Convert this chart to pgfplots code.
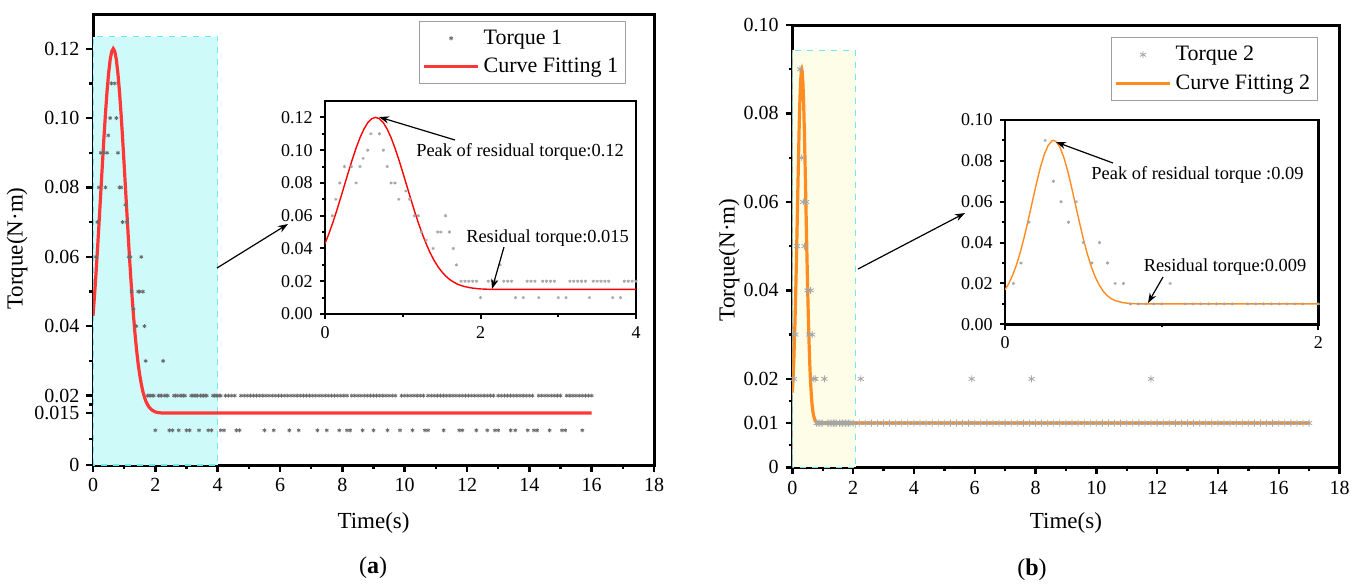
\documentclass[border=0pt]{standalone}
\usepackage{fontspec}
\setmainfont{Liberation Serif}
\usepackage{pgfplots}
\usepackage{pgfplotstable}
\pgfplotsset{compat=1.18}
\usetikzlibrary{arrows.meta}

\definecolor{fitred}{RGB}{255,55,55}
\definecolor{fitorange}{RGB}{255,140,30}
\definecolor{cyanfill}{RGB}{206,250,250}
\definecolor{cyanedge}{RGB}{110,232,238}
\definecolor{yelfill}{RGB}{254,253,232}
\definecolor{markgray}{RGB}{105,105,105}
\definecolor{lightmark}{RGB}{165,165,165}

\newcommand{\tickfont}{\fontsize{10}{12}\selectfont}
\newcommand{\insetfont}{\fontsize{9}{11}\selectfont}
\newcommand{\labfont}{\fontsize{11.5}{13}\selectfont}
\newcommand{\legfont}{\fontsize{11}{13}\selectfont}
\newcommand{\annfont}{\fontsize{9.2}{11}\selectfont}

% measured torque, panel (a)
\pgfplotstableread[row sep=\\]{
x y\\
0.094 0.060\\ 0.14 0.070\\ 0.19 0.080\\ 0.25 0.090\\ 0.34 0.090\\ 0.40 0.080\\
0.45 0.090\\ 0.49 0.095\\ 0.55 0.100\\ 0.59 0.110\\ 0.70 0.110\\ 0.75 0.100\\
0.80 0.090\\ 0.85 0.080\\ 0.90 0.080\\ 0.95 0.070\\ 1.04 0.075\\ 1.09 0.070\\
1.15 0.060\\ 1.20 0.060\\ 1.24 0.050\\ 1.30 0.045\\ 1.39 0.040\\ 1.45 0.050\\
1.49 0.050\\ 1.55 0.060\\ 1.60 0.050\\ 1.65 0.040\\ 1.69 0.030\\ 2.25 0.030\\
1.75 0.02\\ 1.80 0.02\\ 1.85 0.02\\ 1.90 0.02\\ 1.95 0.02\\ 2.10 0.02\\ 2.15 0.02\\
2.20 0.02\\ 2.30 0.02\\ 2.35 0.02\\ 2.40 0.02\\ 2.60 0.02\\ 2.65 0.02\\ 2.70 0.02\\
2.80 0.02\\ 2.85 0.02\\ 2.90 0.02\\ 2.95 0.02\\ 3.15 0.02\\ 3.20 0.02\\ 3.25 0.02\\
3.30 0.02\\ 3.35 0.02\\ 3.45 0.02\\ 3.50 0.02\\ 3.55 0.02\\ 3.60 0.02\\ 3.65 0.02\\
3.85 0.02\\ 3.90 0.02\\ 3.95 0.02\\ 4.00 0.02\\ 4.05 0.02\\ 4.10 0.02\\ 4.25 0.02\\
4.35 0.02\\ 4.45 0.02\\ 4.55 0.02\\ 4.75 0.02\\ 4.85 0.02\\ 4.95 0.02\\ 5.05 0.02\\
5.15 0.02\\ 5.25 0.02\\ 5.35 0.02\\ 5.45 0.02\\ 5.55 0.02\\ 5.65 0.02\\ 5.75 0.02\\
5.85 0.02\\ 5.95 0.02\\ 6.05 0.02\\ 6.15 0.02\\ 6.25 0.02\\ 6.35 0.02\\ 6.45 0.02\\
6.55 0.02\\ 6.65 0.02\\ 6.75 0.02\\ 6.85 0.02\\ 6.95 0.02\\ 7.05 0.02\\ 7.15 0.02\\
7.25 0.02\\ 7.35 0.02\\ 7.45 0.02\\ 7.55 0.02\\ 7.65 0.02\\ 7.75 0.02\\ 7.85 0.02\\
7.95 0.02\\ 8.05 0.02\\ 8.15 0.02\\ 8.30 0.02\\ 8.40 0.02\\ 8.50 0.02\\ 8.60 0.02\\
8.70 0.02\\ 8.80 0.02\\ 8.90 0.02\\ 9.00 0.02\\ 9.10 0.02\\ 9.20 0.02\\ 9.30 0.02\\
9.40 0.02\\ 9.50 0.02\\ 9.60 0.02\\ 9.70 0.02\\ 9.90 0.02\\ 10.00 0.02\\ 10.10 0.02\\
10.20 0.02\\ 10.30 0.02\\ 10.40 0.02\\ 10.50 0.02\\ 10.60 0.02\\ 10.75 0.02\\
10.85 0.02\\ 10.95 0.02\\ 11.05 0.02\\ 11.15 0.02\\ 11.25 0.02\\ 11.35 0.02\\
11.45 0.02\\ 11.55 0.02\\ 11.65 0.02\\ 11.75 0.02\\ 11.85 0.02\\ 11.95 0.02\\
12.05 0.02\\ 12.15 0.02\\ 12.25 0.02\\ 12.35 0.02\\ 12.45 0.02\\ 12.55 0.02\\
12.65 0.02\\ 12.75 0.02\\ 12.85 0.02\\ 13.00 0.02\\ 13.10 0.02\\ 13.20 0.02\\
13.30 0.02\\ 13.40 0.02\\ 13.50 0.02\\ 13.60 0.02\\ 13.70 0.02\\ 13.80 0.02\\
13.90 0.02\\ 14.00 0.02\\ 14.10 0.02\\ 14.30 0.02\\ 14.40 0.02\\ 14.50 0.02\\
14.60 0.02\\ 14.70 0.02\\ 14.80 0.02\\ 14.90 0.02\\ 15.00 0.02\\ 15.20 0.02\\
15.30 0.02\\ 15.40 0.02\\ 15.50 0.02\\ 15.60 0.02\\ 15.70 0.02\\ 15.80 0.02\\
15.90 0.02\\ 16.00 0.02\\
2.00 0.01\\ 2.45 0.01\\ 2.55 0.01\\ 2.75 0.01\\ 3.00 0.01\\ 3.10 0.01\\ 3.40 0.01\\
3.70 0.01\\ 3.80 0.01\\ 4.10 0.01\\ 4.20 0.01\\ 4.60 0.01\\ 4.70 0.01\\ 5.50 0.01\\
5.80 0.01\\ 6.30 0.01\\ 6.60 0.01\\ 7.20 0.01\\ 7.50 0.01\\ 7.90 0.01\\ 8.15 0.01\\
8.25 0.01\\ 8.65 0.01\\ 9.00 0.01\\ 9.45 0.01\\ 9.85 0.01\\ 10.25 0.01\\ 10.65 0.01\\
10.75 0.01\\ 11.25 0.01\\ 11.75 0.01\\ 11.85 0.01\\ 12.30 0.01\\ 12.65 0.01\\
12.90 0.01\\ 13.00 0.01\\ 13.40 0.01\\ 13.55 0.01\\ 13.95 0.01\\ 14.15 0.01\\
14.25 0.01\\ 14.65 0.01\\ 15.05 0.01\\ 15.15 0.01\\ 15.70 0.01\\
}\torqueA

% fitted curve, panel (a)
\pgfplotstableread[row sep=\\]{
x y\\
0 0.0430\\ 0.05 0.0490\\ 0.10 0.0557\\ 0.15 0.0630\\ 0.20 0.0707\\ 0.25 0.0786\\
0.30 0.0865\\ 0.35 0.0942\\ 0.40 0.1013\\ 0.45 0.1076\\ 0.50 0.1128\\ 0.55 0.1168\\
0.60 0.1192\\ 0.65 0.1200\\ 0.70 0.1192\\ 0.75 0.1168\\ 0.80 0.1128\\ 0.85 0.1076\\
0.90 0.1013\\ 0.95 0.0942\\ 1.00 0.0865\\ 1.05 0.0786\\ 1.10 0.0707\\ 1.15 0.0630\\
1.20 0.0557\\ 1.25 0.0490\\ 1.30 0.0430\\ 1.35 0.0376\\ 1.40 0.0330\\ 1.45 0.0291\\
1.50 0.0259\\ 1.55 0.0233\\ 1.60 0.0212\\ 1.65 0.0196\\ 1.70 0.0183\\ 1.75 0.0174\\
1.80 0.0167\\ 1.85 0.0162\\ 1.90 0.0158\\ 2.00 0.0153\\ 2.10 0.0151\\ 2.20 0.0150\\
2.40 0.0150\\ 16.00 0.0150\\
}\fitA

% measured torque, panel (b)
\pgfplotstableread[row sep=\\]{
x y\\
0.053 0.02\\ 0.102 0.03\\ 0.153 0.05\\ 0.256 0.09\\ 0.309 0.07\\ 0.358 0.06\\
0.405 0.05\\ 0.454 0.06\\ 0.500 0.04\\ 0.554 0.03\\ 0.603 0.04\\ 0.654 0.03\\
0.703 0.02\\ 0.756 0.02\\ 1.054 0.02\\ 2.25 0.02\\ 5.90 0.02\\ 7.87 0.02\\ 11.80 0.02\\
0.80 0.01\\ 0.85 0.01\\ 0.90 0.01\\ 0.95 0.01\\ 1.00 0.01\\ 1.15 0.01\\ 1.20 0.01\\
1.25 0.01\\ 1.30 0.01\\ 1.35 0.01\\ 1.40 0.01\\ 1.45 0.01\\ 1.55 0.01\\ 1.60 0.01\\
1.65 0.01\\ 1.70 0.01\\ 1.75 0.01\\ 1.80 0.01\\ 1.85 0.01\\ 1.90 0.01\\
2.0 0.01\\ 2.2 0.01\\ 2.4 0.01\\ 2.6 0.01\\ 2.8 0.01\\ 3.0 0.01\\ 3.2 0.01\\ 3.4 0.01\\
3.6 0.01\\ 3.8 0.01\\ 4.0 0.01\\ 4.2 0.01\\ 4.4 0.01\\ 4.6 0.01\\ 4.8 0.01\\ 5.0 0.01\\
5.2 0.01\\ 5.4 0.01\\ 5.6 0.01\\ 5.8 0.01\\ 6.0 0.01\\ 6.2 0.01\\ 6.4 0.01\\ 6.6 0.01\\
6.8 0.01\\ 7.0 0.01\\ 7.2 0.01\\ 7.4 0.01\\ 7.6 0.01\\ 7.8 0.01\\ 8.0 0.01\\ 8.2 0.01\\
8.4 0.01\\ 8.6 0.01\\ 8.8 0.01\\ 9.0 0.01\\ 9.2 0.01\\ 9.4 0.01\\ 9.6 0.01\\ 9.8 0.01\\
10.0 0.01\\ 10.2 0.01\\ 10.4 0.01\\ 10.6 0.01\\ 10.8 0.01\\ 11.0 0.01\\ 11.2 0.01\\
11.4 0.01\\ 11.6 0.01\\ 11.8 0.01\\ 12.0 0.01\\ 12.2 0.01\\ 12.4 0.01\\ 12.6 0.01\\
12.8 0.01\\ 13.0 0.01\\ 13.2 0.01\\ 13.4 0.01\\ 13.6 0.01\\ 13.8 0.01\\ 14.0 0.01\\
14.2 0.01\\ 14.4 0.01\\ 14.6 0.01\\ 14.8 0.01\\ 15.0 0.01\\ 15.2 0.01\\ 15.4 0.01\\
15.6 0.01\\ 15.8 0.01\\ 16.0 0.01\\ 16.2 0.01\\ 16.4 0.01\\ 16.6 0.01\\ 16.8 0.01\\
17.0 0.01\\
}\torqueB

% fitted curve, panel (b)
\pgfplotstableread[row sep=\\]{
x y\\
0 0.0169\\ 0.025 0.0201\\ 0.05 0.0243\\ 0.075 0.0295\\ 0.10 0.0360\\ 0.125 0.0434\\
0.15 0.0516\\ 0.175 0.0602\\ 0.20 0.0687\\ 0.225 0.0766\\ 0.25 0.0830\\ 0.275 0.0875\\
0.30 0.0898\\ 0.31 0.0900\\ 0.325 0.0895\\ 0.35 0.0868\\ 0.375 0.0818\\ 0.40 0.0751\\
0.425 0.0671\\ 0.45 0.0585\\ 0.475 0.0500\\ 0.50 0.0418\\ 0.525 0.0346\\ 0.55 0.0284\\
0.575 0.0233\\ 0.60 0.0194\\ 0.625 0.0164\\ 0.65 0.0142\\ 0.675 0.0127\\ 0.70 0.0117\\
0.75 0.0106\\ 0.80 0.0102\\ 0.85 0.0100\\ 0.90 0.0100\\ 17.0 0.0100\\
}\fitB

\pgfplotsset{
  mainax/.style={
    scale only axis, anchor=south west,
    axis line style={line width=1.5pt},
    tick style={line width=1.2pt, black},
    major tick length=3.3pt, minor tick length=1.8pt,
    tick align=outside, tick pos=left,
    tick label style={font=\tickfont},
    /pgf/number format/assume math mode=true,
    label style={font=\labfont},
    legend cell align=left,
    legend style={draw=gray!75, line width=0.5pt, font=\legfont,
      inner xsep=1.5pt, inner ysep=2pt, row sep=1.5pt},
  },
  insetax/.style={
    scale only axis, anchor=south west,
    axis background/.style={fill=white},
    axis line style={line width=1.2pt},
    tick style={line width=1pt, black},
    major tick length=2.6pt, minor tick length=1.5pt,
    tick align=outside, tick pos=left,
    tick label style={font=\insetfont},
    /pgf/number format/assume math mode=true,
  },
  legline/.style={legend image code/.code={\draw[##1] (0pt,0pt) -- (27pt,0pt);}},
  legmark/.style={legend image code/.code={\draw[##1] plot coordinates {(13.5pt,0pt)};}},
}
\tikzset{arr/.style={-{Stealth[length=5pt,width=3.6pt]}, line width=0.6pt}}

\begin{document}
\begin{tikzpicture}
\useasboundingbox (0,0) rectangle (682.5pt,-293pt);

% ---- panel (a) ----
\begin{axis}[mainax, at={(46.5pt,-232.5pt)}, width=280.5pt, height=225.5pt,
  xmin=0, xmax=18, ymin=0, ymax=0.13,
  xtick={0,2,...,18}, minor xtick={1,3,...,17},
  ytick={0,0.015,0.02,0.04,0.06,0.08,0.1,0.12},
  yticklabels={0,0.015,0.02,0.04,0.06,0.08,0.10,0.12},
  minor ytick={0.0075,0.0175,0.03,0.05,0.07,0.09,0.11},
  xlabel={Time(s)}, ylabel={Torque(N·m)},
  xlabel style={at={(axis description cs:0.5,-0.1286)}, anchor=center},
  ylabel style={at={(axis description cs:-0.1355,0.48)}, anchor=center},
  legend style={at={(0.9495,0.9845)}, anchor=north east}]
\fill[cyanfill] (axis cs:0,0) rectangle (axis cs:4,0.1235);
\draw[cyanedge, dashed, line width=0.6pt] (axis cs:0,0) rectangle (axis cs:4,0.1235);
\addplot[only marks, mark=asterisk, mark size=1pt, markgray,
  mark options={line width=0.4pt}, legmark] table {\torqueA};
\addplot[fitred, line width=1.6pt, legline] table {\fitA};
\legend{Torque 1, Curve Fitting 1}
\end{axis}

\begin{axis}[insetax, at={(162.5pt,-157pt)}, width=155.5pt, height=106.5pt,
  xmin=0, xmax=4, ymin=0, ymax=0.13,
  xtick={0,2,4}, minor xtick={1,3},
  ytick={0,0.02,0.04,0.06,0.08,0.1,0.12},
  yticklabels={0.00,0.02,0.04,0.06,0.08,0.10,0.12},
  minor ytick={0.01,0.03,0.05,0.07,0.09,0.11}]
\addplot[only marks, mark=asterisk, mark size=0.8pt, lightmark,
  mark options={line width=0.35pt}] table {\torqueA};
\addplot[red, line width=0.7pt] table {\fitA};
\end{axis}

% ---- panel (b) ----
\begin{axis}[mainax, at={(396.15pt,-233.65pt)}, width=273.6pt, height=221.15pt,
  xmin=0, xmax=18, ymin=0, ymax=0.1,
  xtick={0,2,...,18}, minor xtick={1,3,...,17},
  ytick={0,0.01,0.02,0.04,0.06,0.08,0.1},
  yticklabels={0,0.01,0.02,0.04,0.06,0.08,0.10},
  minor ytick={0.005,0.015,0.03,0.05,0.07,0.09},
  xlabel={Time(s)}, ylabel={Torque(N·m)},
  xlabel style={at={(axis description cs:0.5,-0.126)}, anchor=center},
  ylabel style={at={(axis description cs:-0.1157,0.469)}, anchor=center},
  legend style={at={(0.960,0.972)}, anchor=north east}]
\fill[yelfill] (axis cs:0,0) rectangle (axis cs:2.09,0.0943);
\draw[cyanedge, dashed, line width=0.6pt] (axis cs:0,0) rectangle (axis cs:2.09,0.0943);
\addplot[only marks, mark=asterisk, mark size=1.75pt, lightmark,
  mark options={line width=0.4pt}, legmark] table {\torqueB};
\addplot[fitorange, line width=1.6pt, legline] table {\fitB};
\legend{Torque 2, Curve Fitting 2}
\end{axis}

\begin{axis}[insetax, at={(502.5pt,-162.15pt)}, width=156.65pt, height=102.15pt,
  xmin=0, xmax=2, ymin=0, ymax=0.1,
  xtick={0,2}, minor xtick={1},
  ytick={0,0.02,0.04,0.06,0.08,0.1},
  yticklabels={0.00,0.02,0.04,0.06,0.08,0.10},
  minor ytick={0.01,0.03,0.05,0.07,0.09}]
\addplot[only marks, mark=asterisk, mark size=0.8pt, lightmark,
  mark options={line width=0.35pt}] table {\torqueB};
\addplot[fitorange, line width=0.7pt] table {\fitB};
\end{axis}

% ---- annotations (pixel grid of the reference) ----
\begin{scope}[x=0.5pt, y=-0.5pt]
\draw[arr] (217,268) -- (288,224);
\node[font=\annfont] at (520,152) {Peak of residual torque:0.12};
\draw[arr] (455,140) -- (379,117);
\node[font=\annfont] at (547.5,238) {Residual torque:0.015};
\draw[arr] (504,247) -- (492,289);
\draw[arr] (858,269) -- (965,213);
\node[font=\annfont] at (1197.5,175) {Peak of residual torque :0.09};
\draw[arr] (1113,163) -- (1056,142);
\node[font=\annfont] at (1225,267.5) {Residual torque:0.009};
\draw[arr] (1163,277) -- (1148,303);
\node[font=\fontsize{12}{14}\selectfont] at (373,568) {(\textbf{a})};
\node[font=\fontsize{12}{14}\selectfont] at (1032,570) {(\textbf{b})};
\end{scope}
\end{tikzpicture}
\end{document}
